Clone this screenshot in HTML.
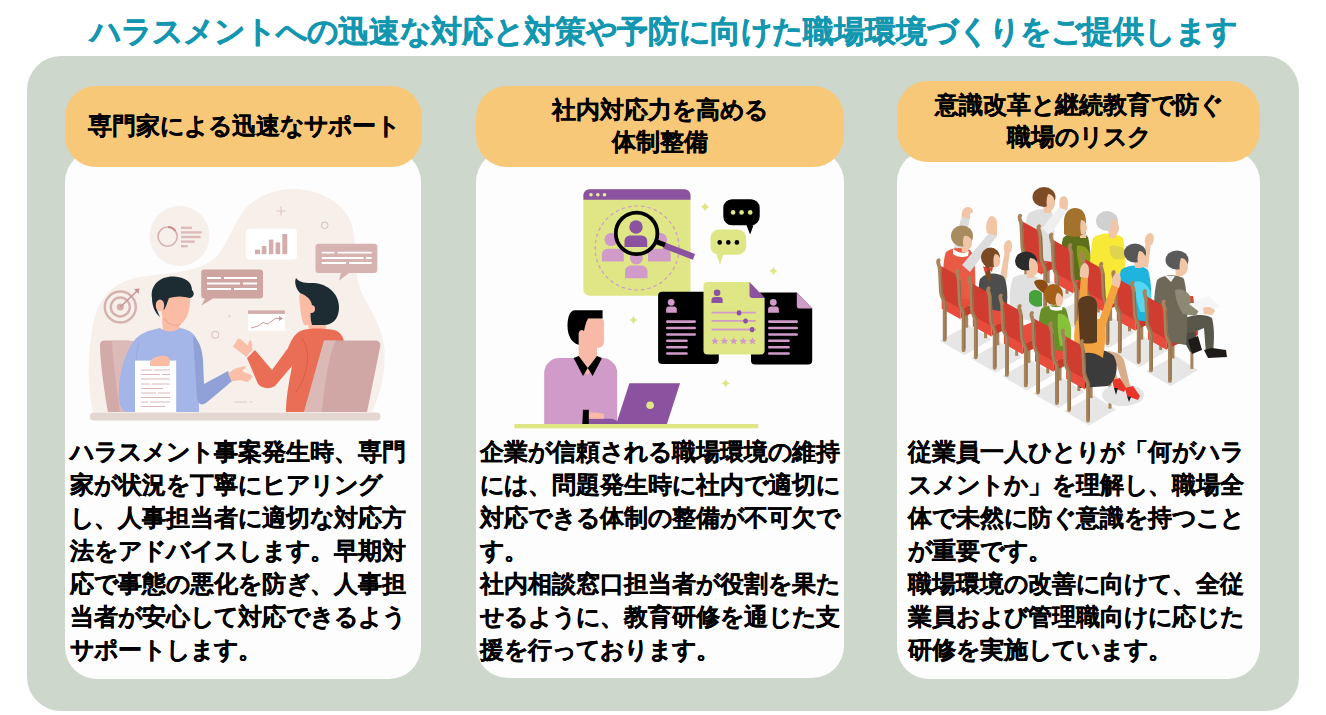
<!DOCTYPE html>
<html lang="ja">
<head>
<meta charset="utf-8">
<style>
html,body{margin:0;padding:0;}
body{width:1326px;height:715px;overflow:hidden;background:#fff;position:relative;font-family:"Liberation Sans",sans-serif;font-weight:bold;color:#000;-webkit-text-stroke:0.25px currentColor;}
i{font-style:normal;display:inline-block;text-align:center;}
.title{position:absolute;left:89.5px;top:14px;font-size:31px;line-height:36px;color:#1397b0;-webkit-text-stroke:0.5px currentColor;white-space:nowrap;}
.title i{width:31px;}
.panel{position:absolute;left:27px;top:56px;width:1272px;height:655px;background:#cdd7cb;border-radius:34px;}
.card{position:absolute;background:#fdfdfd;border-radius:32px;}
.head{position:absolute;background:#f8c879;border-radius:31px;text-align:center;font-size:24px;line-height:32px;display:flex;align-items:center;justify-content:center;white-space:nowrap;}
.head i,.txt i{width:24px;}
.txt{position:absolute;font-size:24px;line-height:33px;white-space:nowrap;}
svg{position:absolute;}

</style>
</head>
<body>
<div class="title"><i class="k">ハ</i><i class="k">ラ</i><i class="k">ス</i><i class="k">メ</i><i class="k">ン</i><i class="k">ト</i><i class="k">へ</i><i class="k">の</i><i>迅</i><i>速</i><i class="k">な</i><i>対</i><i>応</i><i class="k">と</i><i>対</i><i>策</i><i class="k">や</i><i>予</i><i>防</i><i class="k">に</i><i>向</i><i class="k">け</i><i class="k">た</i><i>職</i><i>場</i><i>環</i><i>境</i><i class="k">づ</i><i class="k">く</i><i class="k">り</i><i class="k">を</i><i class="k">ご</i><i>提</i><i>供</i><i class="k">し</i><i class="k">ま</i><i class="k">す</i></div>
<div class="panel"></div>
<div class="card" style="left:65px;top:150px;width:356px;height:529px;"></div>
<div class="card" style="left:476px;top:150px;width:367.5px;height:528px;"></div>
<div class="card" style="left:897px;top:150px;width:363px;height:528.5px;"></div>
<svg style="left:80px;top:180px" width="340" height="250" viewBox="80 180 340 250">
<!-- blob -->
<path fill="#f6efea" d="M93,412 C88,390 87,360 92,330 C97,300 110,284 135,278 C160,273 190,274 210,262 C228,250 232,222 248,206 C262,193 280,188 296,189 C318,190 340,200 350,220 C357,236 354,262 358,282 C362,300 380,318 384,345 C387,370 380,395 372,412 Z"/>
<circle cx="179.5" cy="236" r="30" fill="#f6efea"/>
<!-- donut + lines -->
<circle cx="167.6" cy="236.6" r="9.6" fill="none" stroke="#d6b3b0" stroke-width="1.6"/>
<path d="M168,227 A9.6,9.6 0 0 1 175.5,231" fill="none" stroke="#c28f8c" stroke-width="1.8"/>
<g fill="#dcbcb9"><rect x="181" y="226.6" width="11" height="2.4"/><rect x="181" y="231.2" width="20.7" height="2.4"/><rect x="181" y="235.8" width="19.5" height="2.4"/><rect x="181" y="240.4" width="13.8" height="2.4"/><rect x="181" y="245" width="6.7" height="2.4"/></g>
<!-- plus and circle -->
<g stroke="#dcc8c3" stroke-width="1.2" fill="none"><path d="M281,206.5 V215.5 M276.5,211 H285.5"/><circle cx="324.7" cy="225.3" r="3.2"/><circle cx="215.3" cy="334.8" r="3.4"/></g>
<circle cx="229.4" cy="316.2" r="1" fill="#dcc8c3"/>
<!-- bar chart card -->
<rect x="246" y="228.7" width="51" height="31" rx="4" fill="#fff"/>
<g fill="#d3adab"><rect x="255" y="249.6" width="5" height="4.6"/><rect x="261.8" y="246" width="4.6" height="8.2"/><rect x="268.9" y="239.6" width="4.4" height="14.6"/><rect x="275.6" y="242.4" width="4.6" height="11.8"/><rect x="282.3" y="234" width="5" height="20.2"/></g>
<!-- right bubble -->
<path fill="#d6b2b0" d="M318.5,243.8 H374.3 A3,3 0 0 1 377.3,246.8 V270.1 A3,3 0 0 1 374.3,273.1 H349 L339,280.7 L341,273.1 H318.5 A3,3 0 0 1 315.5,270.1 V246.8 A3,3 0 0 1 318.5,243.8 Z"/>
<g stroke="#fff" stroke-width="1.8"><path d="M321.7,252.7 H334.5 M337.5,252.7 H371.7 M321.7,258 H363.5 M366,258 H371.7 M321.7,263 H346 M349,263 H371.7"/></g>
<!-- left bubble -->
<path fill="#cfa5a2" d="M204.2,269.4 H260 A3,3 0 0 1 263,272.4 V295.5 A3,3 0 0 1 260,298.5 H213 L201.5,305.5 L205,298.5 H204.2 A3,3 0 0 1 201.2,295.5 V272.4 A3,3 0 0 1 204.2,269.4 Z"/>
<g stroke="#fff" stroke-width="1.8"><path d="M207,278 H221 M224,278 H257 M207,283.5 H240 M243,283.5 H257 M207,289 H231 M234,289 H257"/></g>
<!-- target -->
<g fill="none" stroke="#d5b1ae" stroke-width="2.4"><circle cx="120.3" cy="307" r="15.5"/><circle cx="120.3" cy="307" r="9.5"/></g>
<circle cx="120.3" cy="307" r="3.6" fill="#d5b1ae"/>
<path d="M120.3,307 L137,291" stroke="#c39592" stroke-width="1.4"/>
<path d="M134,289 L139.5,288.5 L138.5,294 Z" fill="#c39592"/>
<!-- chart card -->
<rect x="248" y="310.3" width="37" height="20.5" fill="#fff"/>
<rect x="248" y="310.3" width="37" height="3.6" fill="#d3adab"/>
<path d="M251,328 L258,326 L263,322.5 L268,324 L275,318.5 L281,318.5" fill="none" stroke="#c99b98" stroke-width="1"/>
<path d="M279,316 L283,318.5 L279,321 Z" fill="#c99b98"/>
<!-- dashes -->
<path d="M234.5,402 H247 M249.7,402 H252.4" stroke="#ddcec9" stroke-width="1.2"/>
<!-- left chair -->
<path fill="#d2aaa7" d="M104,340.5 H130 L140,412 H108 C104,390 100,360 100,345 A4.5,4.5 0 0 1 104,340.5 Z"/>
<path fill="#dcbab8" d="M112,341 H135 L142,412 H120 C116,385 113,360 112,341 Z"/>
<!-- left man -->
<path fill="#fbbca6" d="M162,318 L163,333 C168,338 176,338 180,333 L179,318 Z"/>
<path fill="#a4b5e8" d="M160,328 C165,332 174,333 180,328 C190,330 197,334 198,345 L199,412 H126 C121,410 118,402 119,392 C119,375 124,355 133,342 C137,337 141,334 148,331 Z"/>
<path fill="#8fa1d7" d="M193,336 C199,340 202,348 203,360 L204,384 L228,371 L232,381 C222,390 212,398 206,403 C201,406 198,404 197,398 Z"/>
<path d="M139,342 C136,355 135,368 136,380" fill="none" stroke="#93a5dc" stroke-width="0.8"/>
<path fill="#fbbfa9" d="M228,373.6 L235.1,368.6 L245.2,366 L245.8,367.5 L242.2,371.1 L252.3,375.7 L251.5,378.2 L247.7,382 L240.1,380.3 L231.7,381.2 Z"/>
<path fill="#fbbca6" d="M160,296 C160,290 168,285 178,286 C187,287 191,294 190,303 C189,313 186,322 179,325 C172,327 164,323 162,316 Z"/>
<path fill="#1d2c33" d="M152,298 C150,285 160,276 174,276.5 C185,277 192,282 192,290 C195,293 194,297 190,298 C183,296 176,296 169,298 C167,303 166,307 164,310 C162,305 158,302 156,303 C156,308 158,313 160,317 C155,313 152,306 152,298 Z"/>
<ellipse cx="160" cy="305.5" rx="4.2" ry="6" fill="#fbbca6"/>
<path d="M164,318 C168,325 176,327 181,324" fill="none" stroke="#eda892" stroke-width="1.2"/>
<rect x="135" y="360.6" width="41.2" height="52" fill="#fff"/>
<g stroke="#dcb8b5" stroke-width="1"><path d="M141,370 H152 M154,370 H170 M141,374.5 H160 M162,374.5 H170 M141,379 H170 M141,384 H150 M152,384 H170 M141,388.5 H163 M141,393 H156 M158,393 H170 M141,397.5 H170 M141,402 H148 M150,402 H170 M141,406.5 H165"/></g>
<path fill="#fbbca6" d="M150,362 C152,357 160,355 166,356 C170,357 171,362 169,366 L150,366 Z"/>
<!-- right man -->
<path fill="#fbbca6" d="M308,322 L309,331 C314,333 322,333 326,330 L326,322 Z"/>
<path fill="#ea6e56" d="M303,330 C312,328 322,328 334,330 C345,333 346,345 344,360 L335,412 H286 C286,395 290,378 292,366 L275,386 C268,390 262,388 258,384 L247,358 L255,350 L272,370 L288,348 C292,338 296,332 303,330 Z"/>
<path d="M302,338 C310,350 310,372 296,392" fill="none" stroke="#d95b45" stroke-width="1"/>
<path fill="#fbbfa9" d="M233,346.4 L238,338.4 L241,339.2 L247.7,345.5 L249.4,340 L251.5,341.3 L252.5,350.1 L246,356.8 Z"/>
<path fill="#fbbca6" d="M299.5,300 C298,292 303,286 312,287 L316,315 C314,322 310,326 304,325 C301,318 300,308 299.5,300 Z"/>
<path fill="#1d2c33" d="M296,278 C300,283 306,283 314,283 C328,284 339,294 339,307 C339,318 334,324 325,325 L312,325 C310,318 310,312 312,306 C312,300 306,295 300,293 C296,289 294,282 296,278 Z"/>
<circle cx="311" cy="309" r="4" fill="#fbbca6"/>
<!-- right chair -->
<path fill="#d0a7a5" d="M324,340.5 H376 A4.5,4.5 0 0 1 380.3,346 L367,412 H304 Z"/>
<path fill="#dbb9b7" d="M324,340.5 H336 C331,350 326,370 322,412 H304 Z"/>
<!-- desk -->
<rect x="90" y="412.5" width="290.5" height="8" rx="3.5" fill="#e4d7d1"/>
</svg>

<svg style="left:500px;top:180px" width="330" height="255" viewBox="500 180 330 255">
<defs><path id="sp" d="M0,-4.6 Q0.9,-0.9 4.6,0 Q0.9,0.9 0,4.6 Q-0.9,0.9 -4.6,0 Q-0.9,-0.9 0,-4.6 Z"/>
<path id="st" d="M0,-3.8 L1.15,-1.25 L3.7,-1.2 L1.8,0.55 L2.35,3.1 L0,1.8 L-2.35,3.1 L-1.8,0.55 L-3.7,-1.2 L-1.15,-1.25 Z"/></defs>
<!-- browser window -->
<rect x="583.4" y="189.2" width="107.1" height="106.6" rx="6" fill="#dfe685"/>
<path d="M589.4,189.2 H684.5 A6,6 0 0 1 690.5,195.2 V199.8 H583.4 V195.2 A6,6 0 0 1 589.4,189.2 Z" fill="#8b529f"/>
<g fill="#e8ee9f"><circle cx="591" cy="194.8" r="1.8"/><circle cx="597.8" cy="194.8" r="1.8"/><circle cx="604.5" cy="194.8" r="1.8"/></g>
<circle cx="637.1" cy="248" r="42" fill="none" stroke="#d09bc9" stroke-width="1.2" stroke-dasharray="3.5 3"/>
<!-- light persons -->
<g fill="#d09bc9">
<circle cx="611" cy="239.6" r="6.5"/><path d="M601.9,261.4 V254 A5.5,5.5 0 0 1 607.4,248.8 H618.2 A5.5,5.5 0 0 1 623.7,254 V261.4 Z"/>
<circle cx="660.6" cy="239.6" r="6.5"/><path d="M648,261.4 V254 A5.5,5.5 0 0 1 653.5,248.8 H665.2 A5.5,5.5 0 0 1 670.7,254 V261.4 Z"/>
<circle cx="636.3" cy="258" r="6.5"/><path d="M625,278.2 V271 A5.5,5.5 0 0 1 630.5,265.6 H642 A5.5,5.5 0 0 1 647.5,271 V278.2 Z"/>
</g>
<circle cx="636.6" cy="233.4" r="21" fill="#dfe685"/>
<g fill="#8b529f"><circle cx="636" cy="227" r="6.7"/><path d="M624.5,247.1 V240.8 A5.5,5.5 0 0 1 630,235.4 H641.7 A5.5,5.5 0 0 1 647.2,240.8 V247.1 Z"/></g>
<!-- magnifier -->
<path d="M664,245.3 L694,256.8" stroke="#8b529f" stroke-width="6.2"/>
<path d="M656,241.5 L665,245" stroke="#000" stroke-width="5"/>
<circle cx="636.6" cy="233.4" r="20.8" fill="none" stroke="#000" stroke-width="3.8"/>
<!-- bubbles -->
<path d="M732,199.3 H751 A8.7,8.7 0 0 1 759.7,208 V216.6 A8.7,8.7 0 0 1 751,225.3 H753.5 L750.1,234.6 L746.5,225.3 H732 A8.7,8.7 0 0 1 723.3,216.6 V208 A8.7,8.7 0 0 1 732,199.3 Z" fill="#000"/>
<g fill="#dfe685"><circle cx="733.1" cy="212.4" r="2.3"/><circle cx="741.6" cy="212.4" r="2.3"/><circle cx="750.2" cy="212.4" r="2.3"/></g>
<path d="M719,229.5 H737.7 A8.5,8.5 0 0 1 746.2,238 V246.2 A8.5,8.5 0 0 1 737.7,254.7 H723.3 L719.9,264.8 L716.6,254.7 H719 A8.5,8.5 0 0 1 710.5,246.2 V238 A8.5,8.5 0 0 1 719,229.5 Z" fill="#dfe685"/>
<g fill="#000"><circle cx="719.7" cy="242.4" r="2.3"/><circle cx="728.3" cy="242.4" r="2.3"/><circle cx="736.9" cy="242.4" r="2.3"/></g>
<!-- sparkles -->
<g fill="#dfe685"><use href="#sp" x="705.1" y="206.9"/><use href="#sp" x="773.4" y="271"/><use href="#sp" x="633.4" y="320"/><use href="#sp" x="725.7" y="383.3"/></g>
<!-- left black doc -->
<rect x="658.1" y="291.8" width="60.7" height="72.2" rx="4" fill="#000"/>
<g fill="#d09bc9"><circle cx="671.2" cy="302.3" r="3.4"/><path d="M666.1,312.7 V309.5 A3,3 0 0 1 669.1,306.5 H673.8 A3,3 0 0 1 676.8,309.5 V312.7 Z"/></g>
<g stroke="#d09bc9" stroke-width="2.6" stroke-linecap="round"><path d="M667.3,321.6 H694.7 M667.3,328 H694.7 M667.3,334.5 H694.7 M667.3,340.7 H686.5 M667.3,347.3 H686.5 M667.3,353.5 H686.5"/></g>
<!-- right black doc -->
<path d="M755,292.5 H796.8 L812.2,308.6 V360.5 A4,4 0 0 1 808.2,364.5 H755 A4,4 0 0 1 751,360.5 V296.5 A4,4 0 0 1 755,292.5 Z" fill="#000"/>
<path d="M796.8,292.5 L812.2,308.6 H800 A3.2,3.2 0 0 1 796.8,305.4 Z" fill="#d09bc9"/>
<g fill="#d09bc9"><circle cx="773.3" cy="302.3" r="3.4"/><path d="M768.1,312.7 V309.5 A3,3 0 0 1 771.1,306.5 H775.9 A3,3 0 0 1 778.9,309.5 V312.7 Z"/></g>
<g stroke="#d09bc9" stroke-width="2.6" stroke-linecap="round"><path d="M769.3,321.6 H796.7 M769.3,328 H796.7 M769.3,334.5 H796.7 M769.3,340.7 H788.6 M769.3,347.3 H788.6 M769.3,353.5 H788.6"/></g>
<!-- middle yellow doc -->
<path d="M707.5,282 H749.5 L764.6,298 V350.4 A4,4 0 0 1 760.6,354.4 H707.5 A4,4 0 0 1 703.5,350.4 V286 A4,4 0 0 1 707.5,282 Z" fill="#dfe685"/>
<path d="M749.5,282 L764.6,298 H752.7 A3.2,3.2 0 0 1 749.5,294.8 Z" fill="#8b529f"/>
<g fill="#8b529f"><circle cx="717.1" cy="292.8" r="3.3"/><path d="M711.5,303 V300 A3,3 0 0 1 714.5,297 H719.7 A3,3 0 0 1 722.7,300 V303 Z"/></g>
<g stroke="#d09bc9" stroke-width="1.8"><path d="M711.5,312.7 H755.8 M711.5,320.9 H755.8 M711.5,329.5 H755.8"/></g>
<g fill="#8b529f"><rect x="736.8" y="310.2" width="4.5" height="5.2" rx="2"/><rect x="743.3" y="318.4" width="4.5" height="5.2" rx="2"/><rect x="749.8" y="327" width="4.5" height="5.2" rx="2"/></g>
<g fill="#d09bc9"><use href="#st" x="715" y="341.1"/><use href="#st" x="724.4" y="341.1"/><use href="#st" x="733.8" y="341.1"/><use href="#st" x="743.2" y="341.1"/><use href="#st" x="752.5" y="341.1"/></g>
<!-- man -->
<path d="M544.2,424 V373 A15,15 0 0 1 559.2,358 H602.2 A15,15 0 0 1 617.2,373 V424 Z" fill="#d09bc9"/>
<path d="M578.7,340 H597 V366 L587.8,375 L578.7,366 Z" fill="#f8baa6"/>
<path d="M573.6,358 L578.7,356 L587.8,368 L583,376 Z M602,358 L597,356 L587.8,368 L592.6,376 Z" fill="#000"/>
<path d="M580,318.4 H600 A4,4 0 0 1 604,322.4 V342 A5.8,5.8 0 0 1 598.2,347.8 H584 L578.7,344 Z" fill="#f8baa6"/>
<path d="M575,310.3 H602.6 V318.4 H588 C586,322 585,326 584,331 C582,329 579,330 578.7,334 L578.7,344.8 C572,343 567.5,336 567.5,326 C567.5,317 570,310.3 575,310.3 Z" fill="#000"/>
<circle cx="582.3" cy="336.7" r="3.2" fill="#f8baa6"/>
<!-- laptop -->
<path d="M588.8,418.8 H610 C614,419 617,420 618,424 H588.8 Z" fill="#8b529f"/>
<path d="M629.4,383.3 H680.1 L666.9,424 H616.2 Z" fill="#8b529f"/>
<circle cx="650.1" cy="405.2" r="3.8" fill="#dfe685"/>
<path d="M588.8,412.7 C594,412 600,412.5 604,414 L604,418.8 H588.8 Z" fill="#f8baa6"/>
<path d="M583,409.7 H588.8 V424 H582.3 Z" fill="#000"/>
<rect x="514.4" y="424" width="243.8" height="4.4" fill="#dfe685"/>
</svg>

<svg style="left:920px;top:170px" width="320" height="260" viewBox="920 170 320 260">
<polygon fill="#e6e6e6" points="1021.2,296.2 1046.1,310.7 1073.1,294.7 1050.2,280.2"/>
<polygon fill="#e6e6e6" points="1052.4,315.0 1077.3,329.5 1104.3,313.5 1081.4,299.0"/>
<polygon fill="#e6e6e6" points="1083.6,333.8 1108.5,348.3 1135.5,332.3 1112.6,317.8"/>
<polygon fill="#e6e6e6" points="1114.8,352.6 1139.7,367.1 1166.7,351.1 1143.8,336.6"/>
<polygon fill="#e6e6e6" points="1146.0,371.4 1170.9,385.9 1197.9,369.9 1175.0,355.4"/>
<polygon fill="#e6e6e6" points="939.7,340.7 964.6,355.2 991.6,339.2 968.7,324.7"/>
<polygon fill="#e6e6e6" points="970.8,358.3 995.7,372.8 1022.7,356.8 999.8,342.3"/>
<polygon fill="#e6e6e6" points="1001.9,375.9 1026.8,390.4 1053.8,374.4 1030.9,359.9"/>
<polygon fill="#e6e6e6" points="1033.0,393.5 1057.9,408.0 1084.9,392.0 1062.0,377.5"/>
<polygon fill="#e6e6e6" points="1064.1,411.1 1089.0,425.6 1116.0,409.6 1093.1,395.1"/>
<line x1="1048.2" y1="283.2" x2="1048.2" y2="249.2" stroke="#a8825a" stroke-width="3"/><line x1="1067.1" y1="293.7" x2="1067.1" y2="259.7" stroke="#a8825a" stroke-width="3"/>
<polygon fill="#e84c3d" points="1023.2,254.2 1042.1,264.7 1073.1,251.7 1054.2,241.2"/><polygon fill="#c9392b" points="1042.1,264.7 1073.1,251.7 1073.1,259.7 1042.1,273.7"/>

<path fill="#dedede" d="M1028,214 C1034,208 1046,208 1052,212 C1055,225 1055,245 1053,262 L1027,258 C1024,243 1024,225 1028,214 Z"/>
<path fill="#efefef" d="M1042,228 L1060,206 L1067,210 L1050,236 Z"/>
<path fill="#f0c6a6" d="M1060,208 C1058,201 1060,196 1064,196 C1068,197 1069,202 1067,210 Z"/>
<path fill="#f0c6a6" d="M1043,204 L1051,204 L1051,213 L1044,213 Z"/>
<ellipse cx="1044" cy="197" rx="11.5" ry="10" fill="#7c4c27"/>
<path fill="#f0c6a6" d="M1048,194 C1052,194 1055,198 1055,204 C1054,209 1051,212 1048,211 C1046,205 1046,199 1048,194 Z"/>

<polygon fill="#e84c3d" points="1023.2,252.2 1042.1,262.7 1042.1,274.7 1023.2,264.2"/><polygon fill="#d03c2f" points="1020.2,220.2 1039.1,230.7 1041.1,263.7 1022.2,253.2"/><path d="M1026.2,295.2 L1026.2,259.2 C1026.2,255.2 1022.7,253.2 1022.4,247.2 L1021.4,225.2 C1020.7,219.2 1018.2,217.2 1020.2,215.7" fill="none" stroke="#a8825a" stroke-width="3.8" stroke-linecap="round"/><path d="M1027.4,294.2 L1027.4,259.2 C1027.4,255.2 1023.9,253.2 1023.6,247.2 L1022.6,225.2" fill="none" stroke="#8c6a46" stroke-width="1" /><path d="M1045.1,305.7 L1045.1,269.7 C1045.1,265.7 1041.6,263.7 1041.3,257.7 L1040.3,235.7 C1039.6,229.7 1037.1,227.7 1039.1,226.2" fill="none" stroke="#a8825a" stroke-width="3.8" stroke-linecap="round"/><path d="M1046.3,304.7 L1046.3,269.7 C1046.3,265.7 1042.8,263.7 1042.5,257.7 L1041.5,235.7" fill="none" stroke="#8c6a46" stroke-width="1" />
<line x1="1079.4" y1="302.0" x2="1079.4" y2="268.0" stroke="#a8825a" stroke-width="3"/><line x1="1098.3" y1="312.5" x2="1098.3" y2="278.5" stroke="#a8825a" stroke-width="3"/>
<polygon fill="#e84c3d" points="1054.4,273.0 1073.3,283.5 1104.3,270.5 1085.4,260.0"/><polygon fill="#c9392b" points="1073.3,283.5 1104.3,270.5 1104.3,278.5 1073.3,292.5"/>

<path fill="#5e6e1a" d="M1063,238 C1069,232 1082,232 1088,237 C1091,250 1091,265 1090,282 L1063,278 C1060,265 1060,250 1063,238 Z"/>
<path fill="#8b9b1f" d="M1077,246 C1083,244 1090,249 1091,258 L1091,272 L1080,272 C1078,262 1076,252 1077,246 Z"/>
<path fill="#f0c6a6" d="M1079,229 L1086,229 L1086,238 L1080,238 Z"/>
<path fill="#a3722d" d="M1064,225 C1063,213 1069,208 1075,208 C1082,208 1086,213 1086,222 L1086,232 C1080,238 1070,238 1064,234 Z"/>
<path fill="#f0c6a6" d="M1081,220 C1085,220 1087,224 1087,229 C1086,233 1083,235 1081,234 C1080,229 1080,224 1081,220 Z"/>

<polygon fill="#e84c3d" points="1054.4,271.0 1073.3,281.5 1073.3,293.5 1054.4,283.0"/><polygon fill="#d03c2f" points="1051.4,239.0 1070.3,249.5 1072.3,282.5 1053.4,272.0"/><path d="M1057.4,314.0 L1057.4,278.0 C1057.4,274.0 1053.9,272.0 1053.6,266.0 L1052.6,244.0 C1051.9,238.0 1049.4,236.0 1051.4,234.5" fill="none" stroke="#a8825a" stroke-width="3.8" stroke-linecap="round"/><path d="M1058.6,313.0 L1058.6,278.0 C1058.6,274.0 1055.1,272.0 1054.8,266.0 L1053.8,244.0" fill="none" stroke="#8c6a46" stroke-width="1" /><path d="M1076.3,324.5 L1076.3,288.5 C1076.3,284.5 1072.8,282.5 1072.5,276.5 L1071.5,254.5 C1070.8,248.5 1068.3,246.5 1070.3,245.0" fill="none" stroke="#a8825a" stroke-width="3.8" stroke-linecap="round"/><path d="M1077.5,323.5 L1077.5,288.5 C1077.5,284.5 1074.0,282.5 1073.7,276.5 L1072.7,254.5" fill="none" stroke="#8c6a46" stroke-width="1" />
<line x1="1110.6" y1="320.8" x2="1110.6" y2="286.8" stroke="#a8825a" stroke-width="3"/><line x1="1129.5" y1="331.3" x2="1129.5" y2="297.3" stroke="#a8825a" stroke-width="3"/>
<polygon fill="#e84c3d" points="1085.6,291.8 1104.5,302.3 1135.5,289.3 1116.6,278.8"/><polygon fill="#c9392b" points="1104.5,302.3 1135.5,289.3 1135.5,297.3 1104.5,311.3"/>

<path fill="#f7e935" d="M1093,238 C1100,232 1116,232 1123,238 C1126,255 1126,280 1124,305 L1093,300 C1089,280 1089,255 1093,238 Z"/>
<path fill="#e0d34e" d="M1110,246 C1117,244 1126,248 1127,254 C1127,258 1122,260 1115,259 C1111,258 1109,252 1110,246 Z"/>
<path fill="#f0c6a6" d="M1108,228 L1116,228 L1116,238 L1109,238 Z"/>
<ellipse cx="1107" cy="221" rx="11" ry="10" fill="#d0d0d0"/>
<path fill="#f0c6a6" d="M1112,219 C1116,219 1119,223 1119,229 C1118,234 1115,237 1112,236 C1110,230 1110,224 1112,219 Z"/>

<polygon fill="#e84c3d" points="1085.6,289.8 1104.5,300.3 1104.5,312.3 1085.6,301.8"/><polygon fill="#d03c2f" points="1082.6,257.8 1101.5,268.3 1103.5,301.3 1084.6,290.8"/><path d="M1088.6,332.8 L1088.6,296.8 C1088.6,292.8 1085.1,290.8 1084.8,284.8 L1083.8,262.8 C1083.1,256.8 1080.6,254.8 1082.6,253.3" fill="none" stroke="#a8825a" stroke-width="3.8" stroke-linecap="round"/><path d="M1089.8,331.8 L1089.8,296.8 C1089.8,292.8 1086.3,290.8 1086.0,284.8 L1085.0,262.8" fill="none" stroke="#8c6a46" stroke-width="1" /><path d="M1107.5,343.3 L1107.5,307.3 C1107.5,303.3 1104.0,301.3 1103.7,295.3 L1102.7,273.3 C1102.0,267.3 1099.5,265.3 1101.5,263.8" fill="none" stroke="#a8825a" stroke-width="3.8" stroke-linecap="round"/><path d="M1108.7,342.3 L1108.7,307.3 C1108.7,303.3 1105.2,301.3 1104.9,295.3 L1103.9,273.3" fill="none" stroke="#8c6a46" stroke-width="1" />
<line x1="1141.8" y1="339.6" x2="1141.8" y2="305.6" stroke="#a8825a" stroke-width="3"/><line x1="1160.7" y1="350.1" x2="1160.7" y2="316.1" stroke="#a8825a" stroke-width="3"/>
<polygon fill="#e84c3d" points="1116.8,310.6 1135.7,321.1 1166.7,308.1 1147.8,297.6"/><polygon fill="#c9392b" points="1135.7,321.1 1166.7,308.1 1166.7,316.1 1135.7,330.1"/>

<path fill="#1fb4de" d="M1121,270 C1128,264 1142,264 1148,270 C1152,283 1152,300 1150,322 L1121,318 C1117,302 1117,283 1121,270 Z"/>
<path fill="#55d6f2" d="M1134,282 C1141,279 1150,285 1151,295 L1151,312 L1140,312 C1137,302 1134,292 1134,282 Z"/>
<path fill="#f0c6a6" d="M1141,266 L1146,242 L1151,243 L1148,268 Z"/>
<path fill="#f0c6a6" d="M1145,243 C1144,237 1147,233 1151,233 C1154,234 1155,239 1152,245 Z"/>
<path fill="#f0c6a6" d="M1134,259 L1142,259 L1142,268 L1135,268 Z"/>
<ellipse cx="1135" cy="253" rx="11" ry="9.5" fill="#575757"/>
<path fill="#f0c6a6" d="M1139,251 C1143,251 1146,255 1146,261 C1145,266 1142,268 1139,267 C1137,262 1137,256 1139,251 Z"/>

<polygon fill="#e84c3d" points="1116.8,308.6 1135.7,319.1 1135.7,331.1 1116.8,320.6"/><polygon fill="#d03c2f" points="1113.8,276.6 1132.7,287.1 1134.7,320.1 1115.8,309.6"/><path d="M1119.8,351.6 L1119.8,315.6 C1119.8,311.6 1116.3,309.6 1116.0,303.6 L1115.0,281.6 C1114.3,275.6 1111.8,273.6 1113.8,272.1" fill="none" stroke="#a8825a" stroke-width="3.8" stroke-linecap="round"/><path d="M1121.0,350.6 L1121.0,315.6 C1121.0,311.6 1117.5,309.6 1117.2,303.6 L1116.2,281.6" fill="none" stroke="#8c6a46" stroke-width="1" /><path d="M1138.7,362.1 L1138.7,326.1 C1138.7,322.1 1135.2,320.1 1134.9,314.1 L1133.9,292.1 C1133.2,286.1 1130.7,284.1 1132.7,282.6" fill="none" stroke="#a8825a" stroke-width="3.8" stroke-linecap="round"/><path d="M1139.9,361.1 L1139.9,326.1 C1139.9,322.1 1136.4,320.1 1136.1,314.1 L1135.1,292.1" fill="none" stroke="#8c6a46" stroke-width="1" />
<line x1="1173.0" y1="358.4" x2="1173.0" y2="324.4" stroke="#a8825a" stroke-width="3"/><line x1="1191.9" y1="368.9" x2="1191.9" y2="334.9" stroke="#a8825a" stroke-width="3"/>
<polygon fill="#e84c3d" points="1148.0,329.4 1166.9,339.9 1197.9,326.9 1179.0,316.4"/><polygon fill="#c9392b" points="1166.9,339.9 1197.9,326.9 1197.9,334.9 1166.9,348.9"/>

<path fill="#58574a" d="M1176,322 C1190,314 1205,313 1212,318 C1215,330 1214,342 1213,354 L1206,354 L1204,328 C1195,332 1185,335 1178,336 Z"/>
<path fill="#4c4b40" d="M1180,334 L1195,332 L1199,350 L1190,352 Z"/>
<path fill="#1e1a17" d="M1188,340 L1198,336 L1202,350 L1192,354 Z M1204,350 L1212,348 L1226,350 L1227,357 L1208,358 Z"/>
<path fill="#6d6857" d="M1157,280 C1164,274 1178,274 1184,279 C1188,295 1188,320 1186,345 L1157,340 C1153,320 1153,295 1157,280 Z"/>
<path fill="#8d8a74" d="M1175,290 C1182,287 1190,292 1193,302 L1200,308 L1196,316 L1183,314 C1178,306 1175,298 1175,290 Z"/>
<polygon fill="#f5f5f5" points="1189,304 1208,296 1220,306 1202,314"/>
<path fill="#f0c6a6" d="M1203,308 C1207,306 1213,307 1215,311 L1212,315 L1204,314 Z"/>
<path fill="#e0432f" d="M1190,296 L1193,296 L1194,303 L1191,303 Z"/>
<path fill="#f0c6a6" d="M1175,266 L1183,266 L1183,276 L1176,276 Z"/>
<ellipse cx="1177" cy="260" rx="11.5" ry="9.5" fill="#5a5a5a"/>
<path fill="#f0c6a6" d="M1181,258 C1185,258 1188,262 1188,268 C1187,273 1184,276 1181,275 C1179,269 1179,263 1181,258 Z"/>
<path fill="#efefef" d="M1165,276 L1175,276 L1171,282 Z"/>

<polygon fill="#e84c3d" points="1148.0,327.4 1166.9,337.9 1166.9,349.9 1148.0,339.4"/><polygon fill="#d03c2f" points="1145.0,295.4 1163.9,305.9 1165.9,338.9 1147.0,328.4"/><path d="M1151.0,370.4 L1151.0,334.4 C1151.0,330.4 1147.5,328.4 1147.2,322.4 L1146.2,300.4 C1145.5,294.4 1143.0,292.4 1145.0,290.9" fill="none" stroke="#a8825a" stroke-width="3.8" stroke-linecap="round"/><path d="M1152.2,369.4 L1152.2,334.4 C1152.2,330.4 1148.7,328.4 1148.4,322.4 L1147.4,300.4" fill="none" stroke="#8c6a46" stroke-width="1" /><path d="M1169.9,380.9 L1169.9,344.9 C1169.9,340.9 1166.4,338.9 1166.1,332.9 L1165.1,310.9 C1164.4,304.9 1161.9,302.9 1163.9,301.4" fill="none" stroke="#a8825a" stroke-width="3.8" stroke-linecap="round"/><path d="M1171.1,379.9 L1171.1,344.9 C1171.1,340.9 1167.6,338.9 1167.3,332.9 L1166.3,310.9" fill="none" stroke="#8c6a46" stroke-width="1" />
<line x1="966.7" y1="327.7" x2="966.7" y2="293.7" stroke="#a8825a" stroke-width="3"/><line x1="985.6" y1="338.2" x2="985.6" y2="304.2" stroke="#a8825a" stroke-width="3"/>
<polygon fill="#e84c3d" points="941.7,298.7 960.6,309.2 991.6,296.2 972.7,285.7"/><polygon fill="#c9392b" points="960.6,309.2 991.6,296.2 991.6,304.2 960.6,318.2"/>

<path fill="#dcdcdc" d="M952,256 C955,245 958,228 962,216 L970,218 C967,232 963,248 960,258 Z"/>
<path fill="#f0c6a6" d="M962,217 C961,212 963,208 967,207 C971,207 973,209 973,212 L970,214 L970,219 Z"/>
<path fill="#e95a44" d="M946,252 C952,247 962,247 970,250 C975,256 976,270 975,300 L946,296 C943,282 942,262 946,252 Z"/>
<path fill="#fff" d="M953,249 C958,253 964,254 969,251 L968,256 C962,258 957,257 953,254 Z"/>
<path fill="#dcdcdc" d="M962,265 L990,232 L997,236 L970,272 Z"/>
<path fill="#f0c6a6" d="M987,233 C985,226 987,218 991,216 C995,216 998,220 997,226 L997,236 Z"/>
<path fill="#f0c6a6" d="M961,242 L968,242 L968,252 L962,252 Z"/>
<ellipse cx="962" cy="236" rx="11" ry="10.5" fill="#a88b5e"/>
<path fill="#f0c6a6" d="M964,236 C968,235 972,238 972,243 C972,248 969,250 966,249 C963,248 962,242 964,236 Z"/>

<polygon fill="#e84c3d" points="941.7,296.7 960.6,307.2 960.6,319.2 941.7,308.7"/><polygon fill="#d03c2f" points="938.7,264.7 957.6,275.2 959.6,308.2 940.7,297.7"/><path d="M944.7,339.7 L944.7,303.7 C944.7,299.7 941.2,297.7 940.9,291.7 L939.9,269.7 C939.2,263.7 936.7,261.7 938.7,260.2" fill="none" stroke="#a8825a" stroke-width="3.8" stroke-linecap="round"/><path d="M945.9,338.7 L945.9,303.7 C945.9,299.7 942.4,297.7 942.1,291.7 L941.1,269.7" fill="none" stroke="#8c6a46" stroke-width="1" /><path d="M963.6,350.2 L963.6,314.2 C963.6,310.2 960.1,308.2 959.8,302.2 L958.8,280.2 C958.1,274.2 955.6,272.2 957.6,270.7" fill="none" stroke="#a8825a" stroke-width="3.8" stroke-linecap="round"/><path d="M964.8,349.2 L964.8,314.2 C964.8,310.2 961.3,308.2 961.0,302.2 L960.0,280.2" fill="none" stroke="#8c6a46" stroke-width="1" />
<line x1="997.8" y1="345.3" x2="997.8" y2="311.3" stroke="#a8825a" stroke-width="3"/><line x1="1016.7" y1="355.8" x2="1016.7" y2="321.8" stroke="#a8825a" stroke-width="3"/>
<polygon fill="#e84c3d" points="972.8,316.3 991.7,326.8 1022.7,313.8 1003.8,303.3"/><polygon fill="#c9392b" points="991.7,326.8 1022.7,313.8 1022.7,321.8 991.7,335.8"/>

<path fill="#f0c6a6" d="M998,288 L1005,250 L1010,251 L1005,290 Z"/>
<path fill="#f0c6a6" d="M1004,251 C1003,245 1005,240 1009,240 C1012,241 1013,245 1011,252 Z"/>
<path fill="#4d4d4d" d="M980,279 C986,272 998,272 1004,277 C1008,285 1008,300 1006,312 L981,308 C978,298 978,286 980,279 Z"/>
<path fill="#7b4a24" d="M986,263 C984,270 985,278 990,282 C992,276 990,270 989,264 Z"/>
<ellipse cx="990.5" cy="257.5" rx="9.5" ry="10" fill="#7b4a24"/>
<path fill="#f0c6a6" d="M995,254 C999,254 1001,258 1000,263 C999,267 996,268 994,267 C993,262 993,257 995,254 Z"/>
<path fill="#e33b2e" d="M983,266 L989,269 L985,273 Z M989,269 L993,266 L992,272 Z"/>

<polygon fill="#e84c3d" points="972.8,314.3 991.7,324.8 991.7,336.8 972.8,326.3"/><polygon fill="#d03c2f" points="969.8,282.3 988.7,292.8 990.7,325.8 971.8,315.3"/><path d="M975.8,357.3 L975.8,321.3 C975.8,317.3 972.3,315.3 972.0,309.3 L971.0,287.3 C970.3,281.3 967.8,279.3 969.8,277.8" fill="none" stroke="#a8825a" stroke-width="3.8" stroke-linecap="round"/><path d="M977.0,356.3 L977.0,321.3 C977.0,317.3 973.5,315.3 973.2,309.3 L972.2,287.3" fill="none" stroke="#8c6a46" stroke-width="1" /><path d="M994.7,367.8 L994.7,331.8 C994.7,327.8 991.2,325.8 990.9,319.8 L989.9,297.8 C989.2,291.8 986.7,289.8 988.7,288.3" fill="none" stroke="#a8825a" stroke-width="3.8" stroke-linecap="round"/><path d="M995.9,366.8 L995.9,331.8 C995.9,327.8 992.4,325.8 992.1,319.8 L991.1,297.8" fill="none" stroke="#8c6a46" stroke-width="1" />
<line x1="1028.9" y1="362.9" x2="1028.9" y2="328.9" stroke="#a8825a" stroke-width="3"/><line x1="1047.8" y1="373.4" x2="1047.8" y2="339.4" stroke="#a8825a" stroke-width="3"/>
<polygon fill="#e84c3d" points="1003.9,333.9 1022.8,344.4 1053.8,331.4 1034.9,320.9"/><polygon fill="#c9392b" points="1022.8,344.4 1053.8,331.4 1053.8,339.4 1022.8,353.4"/>

<path fill="#e0e0e0" d="M1013,278 C1020,273 1032,273 1038,278 C1041,290 1041,305 1040,322 L1012,318 C1009,303 1009,288 1013,278 Z"/>
<path fill="#f0c6a6" d="M1026,268 L1034,268 L1034,278 L1027,278 Z"/>
<ellipse cx="1026" cy="261" rx="11" ry="9.5" fill="#2b2b2b"/>
<path fill="#f0c6a6" d="M1030,258 C1035,258 1038,262 1038,268 C1038,274 1035,277 1031,276 C1029,270 1028,263 1030,258 Z"/>

<polygon fill="#e84c3d" points="1003.9,331.9 1022.8,342.4 1022.8,354.4 1003.9,343.9"/><polygon fill="#d03c2f" points="1000.9,299.9 1019.8,310.4 1021.8,343.4 1002.9,332.9"/><path d="M1006.9,374.9 L1006.9,338.9 C1006.9,334.9 1003.4,332.9 1003.1,326.9 L1002.1,304.9 C1001.4,298.9 998.9,296.9 1000.9,295.4" fill="none" stroke="#a8825a" stroke-width="3.8" stroke-linecap="round"/><path d="M1008.1,373.9 L1008.1,338.9 C1008.1,334.9 1004.6,332.9 1004.3,326.9 L1003.3,304.9" fill="none" stroke="#8c6a46" stroke-width="1" /><path d="M1025.8,385.4 L1025.8,349.4 C1025.8,345.4 1022.3,343.4 1022.0,337.4 L1021.0,315.4 C1020.3,309.4 1017.8,307.4 1019.8,305.9" fill="none" stroke="#a8825a" stroke-width="3.8" stroke-linecap="round"/><path d="M1027.0,384.4 L1027.0,349.4 C1027.0,345.4 1023.5,343.4 1023.2,337.4 L1022.2,315.4" fill="none" stroke="#8c6a46" stroke-width="1" />
<line x1="1060.0" y1="380.5" x2="1060.0" y2="346.5" stroke="#a8825a" stroke-width="3"/><line x1="1078.9" y1="391.0" x2="1078.9" y2="357.0" stroke="#a8825a" stroke-width="3"/>
<polygon fill="#e84c3d" points="1035.0,351.5 1053.9,362.0 1084.9,349.0 1066.0,338.5"/><polygon fill="#c9392b" points="1053.9,362.0 1084.9,349.0 1084.9,357.0 1053.9,371.0"/>

<path fill="#47a23c" d="M1029,294 C1031,289 1038,289 1042,293 L1042,306 C1037,308 1031,306 1029,301 Z"/>
<path fill="#6a8e27" d="M1041,309 C1048,304 1060,304 1066,309 C1070,320 1070,335 1069,352 L1042,348 C1038,335 1038,320 1041,309 Z"/>
<path fill="#86c23a" d="M1058,314 C1064,313 1070,318 1071,328 L1071,346 L1060,346 C1058,335 1057,322 1058,314 Z"/>
<path fill="#fff" d="M1049,305 C1054,308 1059,308 1063,305 L1062,310 C1057,311 1053,311 1050,309 Z"/>
<path fill="#8b4c12" d="M1034,282 C1038,278 1045,279 1048,285 L1046,294 C1041,292 1036,288 1034,282 Z"/>
<ellipse cx="1053.5" cy="294.5" rx="9.5" ry="10.5" fill="#a5611a"/>
<path fill="#f0c6a6" d="M1057,293 C1061,293 1063,297 1063,302 C1062,306 1059,307 1057,306 C1055,302 1055,297 1057,293 Z"/>

<polygon fill="#e84c3d" points="1035.0,349.5 1053.9,360.0 1053.9,372.0 1035.0,361.5"/><polygon fill="#d03c2f" points="1032.0,317.5 1050.9,328.0 1052.9,361.0 1034.0,350.5"/><path d="M1038.0,392.5 L1038.0,356.5 C1038.0,352.5 1034.5,350.5 1034.2,344.5 L1033.2,322.5 C1032.5,316.5 1030.0,314.5 1032.0,313.0" fill="none" stroke="#a8825a" stroke-width="3.8" stroke-linecap="round"/><path d="M1039.2,391.5 L1039.2,356.5 C1039.2,352.5 1035.7,350.5 1035.4,344.5 L1034.4,322.5" fill="none" stroke="#8c6a46" stroke-width="1" /><path d="M1056.9,403.0 L1056.9,367.0 C1056.9,363.0 1053.4,361.0 1053.1,355.0 L1052.1,333.0 C1051.4,327.0 1048.9,325.0 1050.9,323.5" fill="none" stroke="#a8825a" stroke-width="3.8" stroke-linecap="round"/><path d="M1058.1,402.0 L1058.1,367.0 C1058.1,363.0 1054.6,361.0 1054.3,355.0 L1053.3,333.0" fill="none" stroke="#8c6a46" stroke-width="1" />
<line x1="1091.1" y1="398.1" x2="1091.1" y2="364.1" stroke="#a8825a" stroke-width="3"/><line x1="1110.0" y1="408.6" x2="1110.0" y2="374.6" stroke="#a8825a" stroke-width="3"/>
<polygon fill="#e84c3d" points="1066.1,369.1 1085.0,379.6 1116.0,366.6 1097.1,356.1"/><polygon fill="#c9392b" points="1085.0,379.6 1116.0,366.6 1116.0,374.6 1085.0,388.6"/>

<ellipse cx="1123" cy="395" rx="21" ry="11" fill="#e4e4e4"/>
<path fill="#d8ad8a" d="M1100,352 C1110,350 1120,352 1124,360 L1131,390 L1125,391 L1117,366 C1110,368 1104,366 1100,362 Z"/>
<path fill="#d8ad8a" d="M1104,362 L1113,382 L1118,380 L1112,360 Z"/>
<path fill="#e8352a" d="M1112,380 L1120,378 L1126,388 L1124,392 L1114,388 Z M1125,388 L1133,386 L1140,396 L1138,400 L1127,396 Z"/>
<path fill="#3b3b3b" d="M1075,350 C1085,346 1105,348 1114,356 C1119,366 1117,380 1108,386 L1080,388 C1074,378 1073,362 1075,350 Z"/>
<path fill="#222" d="M1114,388 L1116,395 L1118,388 Z M1127,396 L1129,402 L1131,397 Z"/>
<path fill="#f3a33f" d="M1076,322 C1082,316 1098,316 1104,322 C1106,335 1105,345 1103,358 C1095,352 1085,351 1077,356 C1074,345 1073,333 1076,322 Z"/>
<path fill="#f3a33f" d="M1077,326 L1081,276 L1088,277 L1086,328 Z"/>
<path fill="#f3a33f" d="M1097,326 L1112,284 L1119,287 L1104,330 Z"/>
<path fill="#f0c6a6" d="M1080,277 C1079,270 1081,264 1085,263 C1089,264 1090,270 1088,278 Z"/>
<path fill="#f0c6a6" d="M1112,285 C1111,278 1114,273 1118,273 C1121,274 1122,280 1119,288 Z"/>
<path fill="#5b3b1f" d="M1078,306 C1077,298 1083,296 1088,296 C1094,296 1098,300 1097,308 L1097,342 C1092,344 1085,344 1080,342 Z"/>

<polygon fill="#e84c3d" points="1066.1,367.1 1085.0,377.6 1085.0,389.6 1066.1,379.1"/><polygon fill="#d03c2f" points="1063.1,335.1 1082.0,345.6 1084.0,378.6 1065.1,368.1"/><path d="M1069.1,410.1 L1069.1,374.1 C1069.1,370.1 1065.6,368.1 1065.3,362.1 L1064.3,340.1 C1063.6,334.1 1061.1,332.1 1063.1,330.6" fill="none" stroke="#a8825a" stroke-width="3.8" stroke-linecap="round"/><path d="M1070.3,409.1 L1070.3,374.1 C1070.3,370.1 1066.8,368.1 1066.5,362.1 L1065.5,340.1" fill="none" stroke="#8c6a46" stroke-width="1" /><path d="M1088.0,420.6 L1088.0,384.6 C1088.0,380.6 1084.5,378.6 1084.2,372.6 L1083.2,350.6 C1082.5,344.6 1080.0,342.6 1082.0,341.1" fill="none" stroke="#a8825a" stroke-width="3.8" stroke-linecap="round"/><path d="M1089.2,419.6 L1089.2,384.6 C1089.2,380.6 1085.7,378.6 1085.4,372.6 L1084.4,350.6" fill="none" stroke="#8c6a46" stroke-width="1" />
</svg>
<div class="head" style="left:65px;top:85.5px;width:357px;height:81px;"><div><i>専</i><i>門</i><i>家</i><i class="k">に</i><i class="k">よ</i><i class="k">る</i><i>迅</i><i>速</i><i class="k">な</i><i class="k">サ</i><i class="k">ポ</i><i class="k">ー</i><i class="k">ト</i></div></div>
<div class="head" style="left:476px;top:85.5px;width:367.5px;height:81px;"><div><i>社</i><i>内</i><i>対</i><i>応</i><i>力</i><i class="k">を</i><i>高</i><i class="k">め</i><i class="k">る</i><br><i>体</i><i>制</i><i>整</i><i>備</i></div></div>
<div class="head" style="left:897px;top:80.5px;width:363px;height:81px;"><div><i>意</i><i>識</i><i>改</i><i>革</i><i class="k">と</i><i>継</i><i>続</i><i>教</i><i>育</i><i class="k">で</i><i>防</i><i class="k">ぐ</i><br><i>職</i><i>場</i><i class="k">の</i><i class="k">リ</i><i class="k">ス</i><i class="k">ク</i></div></div>
<div class="txt" style="left:70px;top:435px;"><i class="k">ハ</i><i class="k">ラ</i><i class="k">ス</i><i class="k">メ</i><i class="k">ン</i><i class="k">ト</i><i>事</i><i>案</i><i>発</i><i>生</i><i>時</i><i>、</i><i>専</i><i>門</i><br><i>家</i><i class="k">が</i><i>状</i><i>況</i><i class="k">を</i><i>丁</i><i>寧</i><i class="k">に</i><i class="k">ヒ</i><i class="k">ア</i><i class="k">リ</i><i class="k">ン</i><i class="k">グ</i><br><i class="k">し</i><i>、</i><i>人</i><i>事</i><i>担</i><i>当</i><i>者</i><i class="k">に</i><i>適</i><i>切</i><i class="k">な</i><i>対</i><i>応</i><i>方</i><br><i>法</i><i class="k">を</i><i class="k">ア</i><i class="k">ド</i><i class="k">バ</i><i class="k">イ</i><i class="k">ス</i><i class="k">し</i><i class="k">ま</i><i class="k">す</i><i>。</i><i>早</i><i>期</i><i>対</i><br><i>応</i><i class="k">で</i><i>事</i><i>態</i><i class="k">の</i><i>悪</i><i>化</i><i class="k">を</i><i>防</i><i class="k">ぎ</i><i>、</i><i>人</i><i>事</i><i>担</i><br><i>当</i><i>者</i><i class="k">が</i><i>安</i><i>心</i><i class="k">し</i><i class="k">て</i><i>対</i><i>応</i><i class="k">で</i><i class="k">き</i><i class="k">る</i><i class="k">よ</i><i class="k">う</i><br><i class="k">サ</i><i class="k">ポ</i><i class="k">ー</i><i class="k">ト</i><i class="k">し</i><i class="k">ま</i><i class="k">す</i><i>。</i></div>
<div class="txt" style="left:480px;top:435px;"><i>企</i><i>業</i><i class="k">が</i><i>信</i><i>頼</i><i class="k">さ</i><i class="k">れ</i><i class="k">る</i><i>職</i><i>場</i><i>環</i><i>境</i><i class="k">の</i><i>維</i><i>持</i><br><i class="k">に</i><i class="k">は</i><i>、</i><i>問</i><i>題</i><i>発</i><i>生</i><i>時</i><i class="k">に</i><i>社</i><i>内</i><i class="k">で</i><i>適</i><i>切</i><i class="k">に</i><br><i>対</i><i>応</i><i class="k">で</i><i class="k">き</i><i class="k">る</i><i>体</i><i>制</i><i class="k">の</i><i>整</i><i>備</i><i class="k">が</i><i>不</i><i>可</i><i>欠</i><i class="k">で</i><br><i class="k">す</i><i>。</i><br><i>社</i><i>内</i><i>相</i><i>談</i><i>窓</i><i>口</i><i>担</i><i>当</i><i>者</i><i class="k">が</i><i>役</i><i>割</i><i class="k">を</i><i>果</i><i class="k">た</i><br><i class="k">せ</i><i class="k">る</i><i class="k">よ</i><i class="k">う</i><i class="k">に</i><i>、</i><i>教</i><i>育</i><i>研</i><i>修</i><i class="k">を</i><i>通</i><i class="k">じ</i><i class="k">た</i><i>支</i><br><i>援</i><i class="k">を</i><i>行</i><i class="k">っ</i><i class="k">て</i><i class="k">お</i><i class="k">り</i><i class="k">ま</i><i class="k">す</i><i>。</i></div>
<div class="txt" style="left:907.5px;top:435px;"><i>従</i><i>業</i><i>員</i><i>一</i><i>人</i><i class="k">ひ</i><i class="k">と</i><i class="k">り</i><i class="k">が</i><i>「</i><i>何</i><i class="k">が</i><i class="k">ハ</i><i class="k">ラ</i><br><i class="k">ス</i><i class="k">メ</i><i class="k">ン</i><i class="k">ト</i><i class="k">か</i><i>」</i><i class="k">を</i><i>理</i><i>解</i><i class="k">し</i><i>、</i><i>職</i><i>場</i><i>全</i><br><i>体</i><i class="k">で</i><i>未</i><i>然</i><i class="k">に</i><i>防</i><i class="k">ぐ</i><i>意</i><i>識</i><i class="k">を</i><i>持</i><i class="k">つ</i><i class="k">こ</i><i class="k">と</i><br><i class="k">が</i><i>重</i><i>要</i><i class="k">で</i><i class="k">す</i><i>。</i><br><i>職</i><i>場</i><i>環</i><i>境</i><i class="k">の</i><i>改</i><i>善</i><i class="k">に</i><i>向</i><i class="k">け</i><i class="k">て</i><i>、</i><i>全</i><i>従</i><br><i>業</i><i>員</i><i class="k">お</i><i class="k">よ</i><i class="k">び</i><i>管</i><i>理</i><i>職</i><i>向</i><i class="k">け</i><i class="k">に</i><i>応</i><i class="k">じ</i><i class="k">た</i><br><i>研</i><i>修</i><i class="k">を</i><i>実</i><i>施</i><i class="k">し</i><i class="k">て</i><i class="k">い</i><i class="k">ま</i><i class="k">す</i><i>。</i></div>
</body>
</html>
